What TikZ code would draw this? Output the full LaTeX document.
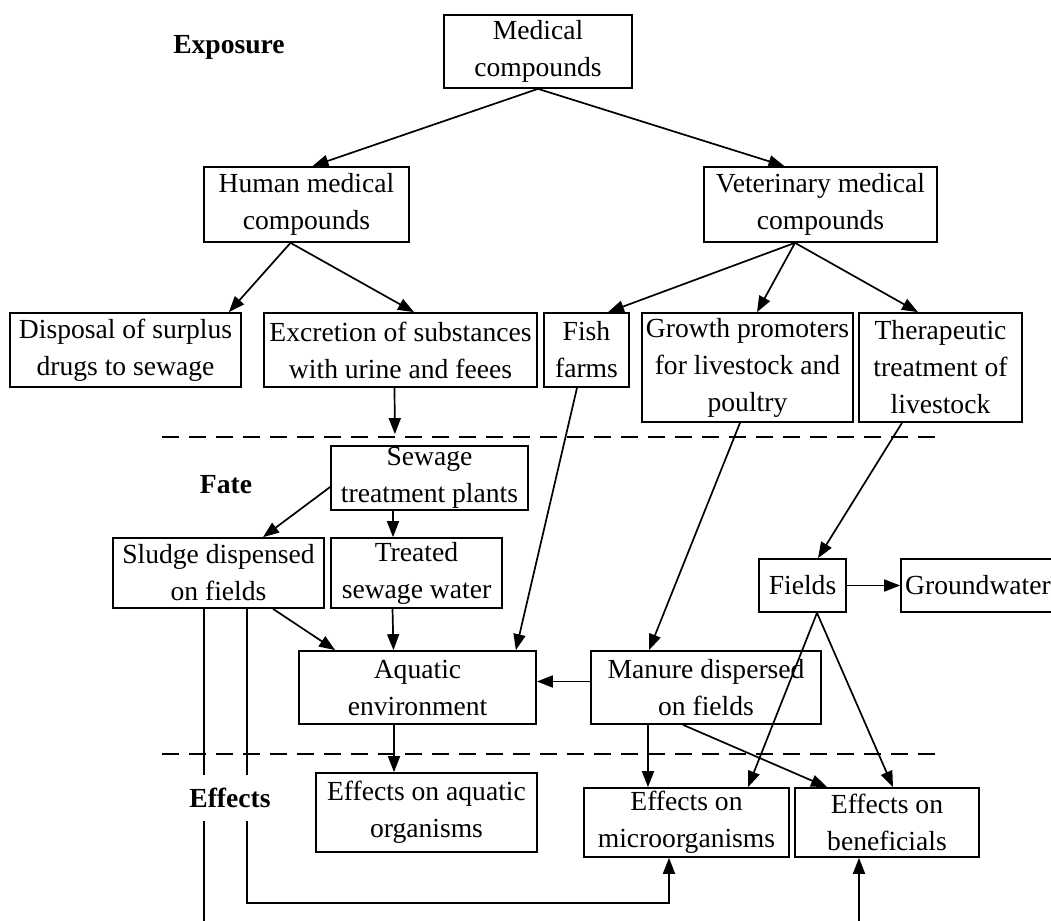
\documentclass[tikz,border=0pt]{standalone}
\usepackage{fontspec}
\setmainfont{Liberation Serif}
\usetikzlibrary{arrows.meta}
\begin{document}
\begin{tikzpicture}[x=0.5pt, y=-0.5pt, line width=0.85pt,
	box/.style={draw, align=center, inner sep=0pt, font=\fontsize{13.8pt}{18.5pt}\selectfont},
	stage/.style={inner sep=2pt, font=\fontsize{13.8pt}{18.5pt}\selectfont\bfseries},
	arr/.style={-{Triangle[length=8pt, width=6pt]}},
	sep/.style={dash pattern=on 8.5pt off 5pt}]
		\useasboundingbox (0,0) rectangle (1051,921);
		\coordinate (sludgeout) at (204,921);
		\coordinate (benin) at (859,921);
		\node[box, minimum width=94pt, minimum height=36.5pt] (med) at (538,51.5) {Medical\\compounds};
		\node[box, minimum width=102.5pt, minimum height=37.5pt] (hum) at (306.5,204.5) {Human medical\\compounds};
		\node[box, minimum width=116.5pt, minimum height=37.5pt] (vet) at (820.5,204.5) {Veterinary medical\\compounds};
		\node[box, minimum width=115.5pt, minimum height=37pt] (disp) at (125.5,350) {Disposal of surplus\\drugs to sewage};
		\node[box, minimum width=136.5pt, minimum height=37pt] (excr) at (400.5,350) {Excretion of substances\\with urine and feees};
		\node[box, minimum width=42.5pt, minimum height=37pt] (fish) at (586.5,350) {Fish\\farms};
		\node[box, minimum width=105.5pt, minimum height=54.5pt] (grow) at (747.5,367.5) {Growth promoters\\for livestock and\\poultry};
		\node[box, minimum width=81.5pt, minimum height=54.5pt] (ther) at (940.5,367.5) {Therapeutic\\treatment of\\livestock};
		\node[box, minimum width=98.5pt, minimum height=32pt] (sew) at (429.5,478) {Sewage\\treatment plants};
		\node[box, minimum width=105.5pt, minimum height=35pt] (sludge) at (218.5,573) {Sludge dispensed\\on fields};
		\node[box, minimum width=85.5pt, minimum height=35pt] (treat) at (416.5,573) {Treated\\sewage water};
		\node[box, minimum width=43.5pt, minimum height=26.5pt] (fields) at (802.5,585.5) {Fields};
		\node[box, minimum width=77pt, minimum height=26.5pt] (ground) at (978,585.5) {Groundwater};
		\node[box, minimum width=118.5pt, minimum height=36.5pt] (aqua) at (417.5,687.5) {Aquatic\\environment};
		\node[box, minimum width=115pt, minimum height=36.5pt] (man) at (706,687.5) {Manure dispersed\\on fields};
		\node[box, minimum width=110.5pt, minimum height=39.5pt] (effaq) at (426.5,812.5) {Effects on aquatic\\organisms};
		\node[box, minimum width=102.5pt, minimum height=34.5pt] (effmic) at (686.5,822.5) {Effects on\\microorganisms};
		\node[box, minimum width=92pt, minimum height=34.5pt] (effben) at (887,822.5) {Effects on\\beneficials};
		\draw[sep] (162,437) -- (943,437);
		\draw[sep] (162,754) -- (943,754);
		\draw[arr] (med.south) -- ([xshift=3pt]hum.north);
		\draw[arr] (med.south) -- ([xshift=-18pt]vet.north);
		\draw[arr] ([xshift=-8pt]hum.south) -- ([xshift=-6.5pt]disp.north east);
		\draw[arr] ([xshift=-8pt]hum.south) -- ([xshift=6.75pt]excr.north);
		\draw[arr, shorten >=5.5pt] ([xshift=-3pt]excr.south) -- ([xshift=-17.25pt]sew.north);
		\draw[arr] ([xshift=-12.75pt]vet.south) -- ([xshift=10.75pt]fish.north);
		\draw[arr] ([xshift=-12.75pt]vet.south) -- ([xshift=4.75pt]grow.north);
		\draw[arr] ([xshift=-12.75pt]vet.south) -- ([xshift=-11.25pt]ther.north);
		\draw[arr] ([yshift=-4.5pt]sew.west) -- ([xshift=22.25pt]sludge.north);
		\draw[arr] ([xshift=-18.25pt]sew.south) -- ([xshift=-11.75pt]treat.north);
		\draw[arr] ([xshift=27.25pt]sludge.south) -- ([xshift=18.5pt]aqua.north west);
		\draw[arr] ([xshift=-12pt]treat.south) -- ([xshift=-12pt]aqua.north);
		\draw[arr] ([xshift=-4.75pt]fish.south) -- ([xshift=-10.5pt]aqua.north east);
		\draw[arr] ([xshift=-3.75pt]grow.south) -- ([xshift=-28.5pt]man.north);
		\draw[arr] ([xshift=-19.25pt]ther.south) -- ([xshift=7.75pt]fields.north);
		\draw[arr] (fields.east) -- (ground.west);
		\draw[arr] ([yshift=3pt]man.west) -- ([yshift=3pt]aqua.east);
		\draw[arr] ([xshift=7.25pt]fields.south) -- ([xshift=30.75pt]effmic.north);
		\draw[arr] ([xshift=7.25pt]fields.south) -- ([xshift=3pt]effben.north);
		\draw[arr] ([xshift=-29pt]man.south) -- ([xshift=-19.25pt]effmic.north);
		\draw[arr] ([xshift=-11.5pt]man.south) -- ([xshift=-30pt]effben.north);
		\draw[arr] ([xshift=-11.75pt]aqua.south) -- ([xshift=-16.25pt]effaq.north);
		\draw ([xshift=-7.25pt]sludge.south) -- (sludgeout);
		\draw[arr] ([xshift=14.25pt]sludge.south) -- ++(0,294) -| ([xshift=-8.75pt]effmic.south);
		\draw[arr] (benin) -- (benin |- effben.south);
		\node[stage] (expo) at (229,47) {Exposure};
		\node[stage] (fate) at (226,485) {Fate};
		\node[stage, fill=white, minimum height=23pt] (eff) at (230,798) {Effects};
\end{tikzpicture}
\end{document}
